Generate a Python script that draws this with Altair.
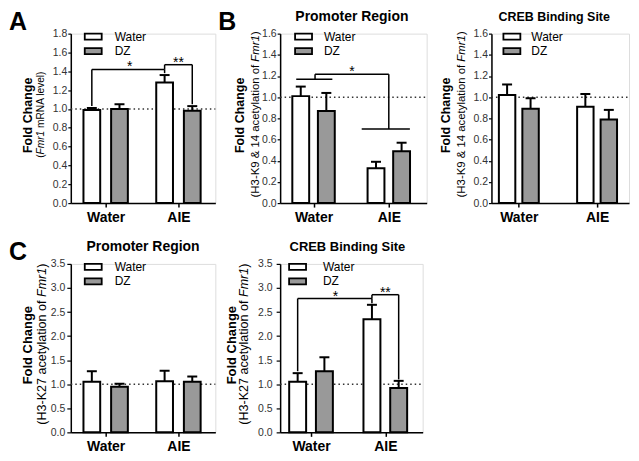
import altair as alt
import pandas as pd

FONT = "Liberation Sans"

groups = ["Water", "AIE"]
treatments = ["Water", "DZ"]
fills = ["white", "#999999"]

# order of values: Water/Water, Water/DZ, AIE/Water, AIE/DZ
a_mean = [0.99, 1.00, 1.28, 0.98]
a_err = [0.02, 0.05, 0.08, 0.05]
b1_mean = [1.01, 0.87, 0.33, 0.49]
b1_err = [0.09, 0.17, 0.06, 0.08]
b2_mean = [1.02, 0.89, 0.91, 0.79]
b2_err = [0.10, 0.10, 0.12, 0.09]
c1_mean = [1.05, 0.95, 1.06, 1.05]
c1_err = [0.22, 0.06, 0.22, 0.11]
c2_mean = [1.05, 1.27, 2.35, 0.92]
c2_err = [0.18, 0.29, 0.30, 0.15]

# significance brackets: (x1, y1, x2, y2) in data units; stars: (x, y, text)
a_segs = [(-0.19, 1.03, -0.19, 1.42), (-0.19, 1.42, 0.81, 1.42), (0.81, 1.42, 0.81, 1.38),
          (0.81, 1.42, 0.81, 1.47), (0.81, 1.47, 1.19, 1.47), (1.19, 1.47, 1.19, 1.05)]
a_stars = [(0.33, 1.42, "*"), (1.0, 1.47, "**")]
b1_segs = [(-0.23, 1.17, 0.25, 1.17), (0.02, 1.17, 0.02, 1.216), (0.02, 1.216, 1.0, 1.216),
           (1.0, 1.216, 1.0, 0.70), (0.64, 0.70, 1.28, 0.70)]
b1_stars = [(0.51, 1.216, "*")]
c2_segs = [(-0.18, 1.27, -0.18, 2.78), (-0.18, 2.78, 0.82, 2.78), (0.82, 2.78, 0.82, 2.68),
           (0.82, 2.78, 0.82, 2.86), (0.82, 2.86, 1.18, 2.86), (1.18, 2.86, 1.18, 1.10)]
c2_stars = [(0.33, 2.78, "*"), (1.0, 2.86, "**")]

ARIAL = {' ': 278, '(': 333, ')': 333, '-': 333, '&': 667, 'A': 667, 'F': 611, 'H': 722,
         'K': 667, 'N': 722, 'R': 722, 'a': 556, 'c': 500, 'e': 556, 'f': 278, 'i': 222,
         'l': 222, 'm': 833, 'n': 556, 'o': 556, 'r': 333, 't': 278, 'v': 500, 'y': 500}


def tw(s, fs):
    return sum(ARIAL.get(ch, 556) for ch in s) * fs / 1000.0


def txt(t, **kw):
    return alt.Chart(pd.DataFrame({"t": [t]})).mark_text(font=FONT, color="black", **kw)


def panel(mean, err, ymax, ystep, w, h, dom, off, hw, sub_parts, sub_fs, fc_fs, fc_x, sub_x,
          legend_pos, segs=(), stars=(), title=None, title_fs=13, title_dx=0, title_y=-14,
          letter=None, lab_pad=1, tick=3):
    pxu = w / (dom[1] - dom[0])
    capw = 5.0 / pxu
    xscale = alt.Scale(domain=dom, nice=False, zero=False)
    yscale = alt.Scale(domain=[0, ymax], nice=False, zero=True)
    xaxis = alt.Axis(values=[0, 1], labelExpr="datum.value == 0 ? 'Water' : 'AIE'", title=None,
                     grid=False, tickSize=4, labelPadding=3, labelFontSize=14,
                     labelFontWeight="bold", labelFont=FONT, labelColor="black",
                     domainColor="black", domainWidth=1.5, tickColor="black", tickWidth=1.5)
    n = int(round(ymax / ystep))
    yvals = [round(i * ystep, 2) for i in range(n + 1)]
    yaxis = alt.Axis(values=yvals, format=".1f", title=None, grid=False, tickSize=tick,
                     labelPadding=lab_pad, labelFontSize=10.5, labelFont=FONT, labelColor="#333",
                     domainColor="black", domainWidth=1.5, tickColor="black", tickWidth=1.2)

    def X(f):
        return alt.X(f, type="quantitative", scale=xscale, axis=xaxis)

    def Y(f):
        return alt.Y(f, type="quantitative", scale=yscale, axis=yaxis)

    rows = []
    for gi, g in enumerate(groups):
        for ti, t in enumerate(treatments):
            k = gi * 2 + ti
            xc = gi + (-off if ti == 0 else off)
            rows.append(dict(grp=g, trt=t, xc=xc, xl=xc - hw, xr=xc + hw, base=0.0,
                             mean=mean[k], top=mean[k] + err[k], cl=xc - capw, cr=xc + capw))
    df = pd.DataFrame(rows)

    sl, lab = legend_pos
    lx = sl + 3.5
    legend = alt.Legend(orient="none", legendX=lx, legendY=-3, title=None, direction="vertical",
                        symbolType="M-1.7,-0.6H1.7V0.6H-1.7Z", symbolSize=100,
                        symbolStrokeColor="black", symbolStrokeWidth=1.8, symbolOpacity=1,
                        labelFont=FONT, labelFontSize=12, labelColor="black",
                        labelOffset=lab - lx - 10, rowPadding=0.5, padding=0)

    layers = []
    layers.append(alt.Chart(pd.DataFrame({"y": [1.0]})).mark_rule(
        strokeDash=[1.5, 3], strokeWidth=1.5, color="#333").encode(
        x=alt.value(0), x2=alt.value(w), y=Y("y")))
    layers.append(alt.Chart(df).mark_rect(stroke="black", strokeWidth=2).encode(
        x=X("xl"), x2="xr", y=Y("mean"), y2="base",
        fill=alt.Fill("trt:N", scale=alt.Scale(domain=treatments, range=fills), legend=legend)))
    layers.append(alt.Chart(df).mark_rule(color="black", strokeWidth=2).encode(
        x=X("xc"), y=Y("mean"), y2="top"))
    layers.append(alt.Chart(df).mark_rule(color="black", strokeWidth=2).encode(
        x=X("cl"), x2="cr", y=Y("top")))
    if segs:
        sdf = pd.DataFrame(list(segs), columns=["x1", "y1", "x2", "y2"])
        layers.append(alt.Chart(sdf).mark_rule(color="black", strokeWidth=1.5).encode(
            x=X("x1"), x2="x2", y=Y("y1"), y2="y2"))
    if stars:
        tdf = pd.DataFrame(list(stars), columns=["x", "y", "t"])
        layers.append(alt.Chart(tdf).mark_text(font=FONT, fontSize=14, baseline="alphabetic",
                                               dy=2, color="black").encode(
            x=X("x"), y=Y("y"), text="t:N"))
    if letter:
        layers.append(txt(letter, fontSize=25, fontWeight="bold", align="left",
                          baseline="alphabetic").encode(
            x=alt.value(-62), y=alt.value(-4), text="t:N"))
    if title:
        layers.append(txt(title, fontSize=title_fs, fontWeight="bold", align="center",
                          baseline="alphabetic").encode(
            x=alt.value(w / 2 + title_dx), y=alt.value(title_y), text="t:N"))
    layers.append(txt("Fold Change", fontSize=fc_fs, fontWeight="bold", align="center",
                      baseline="middle", angle=270).encode(
        x=alt.value(fc_x), y=alt.value(h / 2 - 3), text="t:N"))
    total = sum(tw(p, sub_fs) for p, _ in sub_parts)
    start = h / 2 - 4 + total / 2
    for p, ital in sub_parts:
        s = p.strip()
        lead = tw(p[:len(p) - len(p.lstrip())], sub_fs)
        layers.append(txt(s, fontSize=sub_fs, fontStyle="italic" if ital else "normal",
                          align="left", baseline="middle", angle=270).encode(
            x=alt.value(sub_x), y=alt.value(start - lead), text="t:N"))
        start -= tw(p, sub_fs)
    return alt.layer(*layers).properties(width=w, height=h)


sub_a = [("(", False), ("Fmr1", True), (" mRNA level)", False)]
sub_b = [("(H3-K9 & 14 acetylation of ", False), ("Fmr1", True), (")", False)]
sub_c = [("(H3-K27 acetylation of ", False), ("Fmr1", True), (")", False)]

pA = panel(a_mean, a_err, 1.8, 0.2, 145, 170, [-0.479, 1.507], 0.19, 0.115, sub_a, 10.2, 12.5,
           -43, -30, (13, 42), a_segs, a_stars, letter="A")
pB1 = panel(b1_mean, b1_err, 1.6, 0.2, 147, 170, [-0.444, 1.503], 0.17, 0.112, sub_b, 11.4, 12.5,
            -40, -24, (14, 42), b1_segs, b1_stars, title="Promoter Region", title_fs=14,
            title_y=-13, title_dx=-1.5, letter="B")
pB2 = panel(b2_mean, b2_err, 1.6, 0.2, 138, 170, [-0.35, 1.408], 0.15, 0.105, sub_b, 11.4, 12.5,
            -46, -30, (11, 38), title="CREB Binding Site", title_fs=12.5, title_y=-13,
            title_dx=-6)
pC1 = panel(c1_mean, c1_err, 3.5, 0.5, 145, 169, [-0.479, 1.507], 0.19, 0.115, sub_c, 12.6, 13,
            -43, -29, (13, 42), title="Promoter Region", title_fs=14, title_y=-13, letter="C",
            lab_pad=2, tick=4)
pC2 = panel(c2_mean, c2_err, 3.5, 0.5, 143, 169, [-0.416, 1.503], 0.18, 0.114, sub_c, 12.6, 13,
            -48, -36, (8, 41), c2_segs, c2_stars, title="CREB Binding Site", title_fs=13,
            title_dx=-4, title_y=-13, lab_pad=4, tick=4)

chart = alt.concat(pA, pB1, pB2, pC1, pC2, columns=3, spacing={"row": 61, "column": 65},
                   bounds="flush").resolve_scale(
    fill="independent", x="independent", y="independent").resolve_legend(
    fill="independent").properties(padding=0).configure_view(
    stroke=None).configure(font=FONT)

chart.save("out.html", embed_options={"renderer": "svg", "actions": False})
